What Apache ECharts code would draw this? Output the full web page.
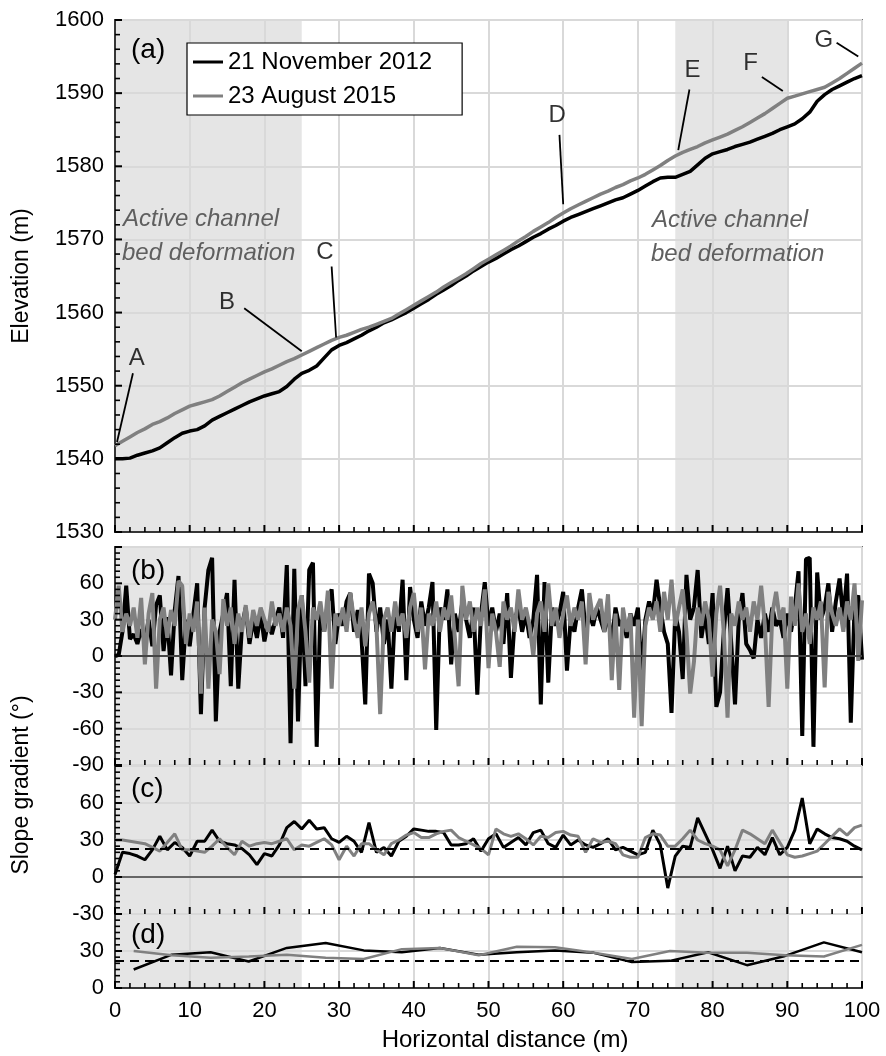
<!DOCTYPE html>
<html><head><meta charset="utf-8">
<script src="https://cdn.jsdelivr.net/npm/echarts@6/dist/echarts.min.js"></script>
<style>html,body{margin:0;padding:0;background:#fff}#c{width:886px;height:1056px;background:#fff}</style>
</head><body><div id="c"></div><script>
const FONT = 'Liberation Sans, Arial, sans-serif';
const seriesNames = ['21 November 2012', '23 August 2015'];
const seriesColors = ['#000000', '#808080'];

// (a) elevation, sampled every 1 m from 0 to 100 m
const elevStep = 1;
const elev2012 = [1540.0,1540.0,1540.1,1540.5,1540.8,1541.1,1541.5,1542.2,1542.9,1543.5,1543.8,1544.0,1544.5,1545.3,1545.8,1546.3,1546.8,1547.3,1547.8,1548.2,1548.6,1548.9,1549.2,1549.9,1550.9,1551.7,1552.1,1552.7,1553.8,1554.9,1555.5,1555.9,1556.4,1556.9,1557.5,1558.0,1558.6,1559.0,1559.5,1560.0,1560.6,1561.2,1561.8,1562.5,1563.1,1563.7,1564.4,1565.0,1565.7,1566.3,1566.9,1567.4,1568.0,1568.6,1569.1,1569.7,1570.3,1570.8,1571.4,1571.9,1572.5,1573.0,1573.4,1573.8,1574.2,1574.6,1575.0,1575.4,1575.7,1576.2,1576.7,1577.3,1577.9,1578.4,1578.5,1578.5,1578.9,1579.3,1580.2,1581.1,1581.7,1582.0,1582.3,1582.7,1583.0,1583.3,1583.7,1584.1,1584.5,1585.0,1585.4,1585.8,1586.5,1587.4,1588.9,1589.8,1590.5,1591.0,1591.5,1592.0,1592.4];
const elev2015 = [1541.8,1542.4,1543.0,1543.6,1544.1,1544.7,1545.1,1545.6,1546.2,1546.7,1547.2,1547.5,1547.8,1548.1,1548.6,1549.2,1549.8,1550.4,1550.9,1551.4,1551.9,1552.3,1552.8,1553.3,1553.7,1554.2,1554.7,1555.2,1555.7,1556.2,1556.6,1556.9,1557.3,1557.7,1558.0,1558.4,1558.8,1559.2,1559.8,1560.4,1561.0,1561.6,1562.2,1562.8,1563.5,1564.1,1564.7,1565.3,1566.0,1566.7,1567.3,1567.9,1568.5,1569.1,1569.8,1570.4,1571.1,1571.7,1572.3,1573.0,1573.6,1574.2,1574.7,1575.2,1575.7,1576.2,1576.6,1577.1,1577.5,1578.0,1578.4,1578.9,1579.5,1580.1,1580.8,1581.4,1581.9,1582.3,1582.7,1583.2,1583.6,1584.0,1584.4,1584.9,1585.4,1586.0,1586.6,1587.2,1587.9,1588.6,1589.3,1589.6,1589.9,1590.2,1590.5,1590.8,1591.4,1592.0,1592.7,1593.4,1594.1];

// (b) raw slope gradient, every 0.5 m
const rawStep = 0.5;
const slopeRaw2012 = [0,1,20,58,14,18,10,22,12,30, 8,42,50,4,32,-16,38,66,-20,30, 8,35,60,-48,40,71,81,-54,20,35, 52,-25,63,-27,25,40,10,30,15,35, 12,28,18,30,40,15,75,-72,72,-54, 50,-25,71,77,-75,40,20,45,55,10, 35,25,45,52,20,38,15,-40,68,60, 20,40,10,30,-27,40,20,63,-20,57, 30,15,45,25,40,61,-61,40,30,55, -7,35,20,45,30,15,40,-32,35,61, 25,40,20,35,10,52,-18,30,40,20, 35,15,30,67,-40,61,-22,40,25,35, 53,-12,30,20,40,55,20,35,25,40, 30,20,35,10,40,25,30,15,35,25, 40,-16,30,45,35,63,40,20,10,-47, 35,20,-19,67,30,40,71,15,35,10, 52,-42,-30,20,56,10,-40,30,52,10, 5,-2,30,15,35,20,40,25,30,15, 35,20,40,70,-66,80,81,-75,69,30, 40,60,20,45,64,30,68,-55,40,50, -3];
const slopeRaw2015 = [30,58,20,35,25,40,15,48,-7,35, 52,-27,30,40,15,38,25,62,58,10, 35,20,45,-31,40,-27,30,20,-15,47, 25,40,10,35,20,42,15,38,25,40, 30,20,45,25,35,20,40,25,-27,38, 50,20,-22,40,30,45,20,54,-27,35, 25,40,20,52,30,15,40,8,35,45, 25,-48,30,40,20,45,25,35,15,40, 52,20,40,-11,35,25,45,20,40,30, 50,15,-25,58,30,45,20,40,25,55, -10,35,20,-9,45,30,40,20,55,30, 40,25,0,35,45,20,60,25,40,15, 35,50,25,40,30,45,-7,52,30,40, 47,20,51,-20,35,-28,40,20,35,-51, 30,-58,25,40,30,45,20,53,30,63, 25,40,55,20,-31,-5,40,25,45,30, -17,35,58,20,-51,35,25,45,30,40, 20,45,30,58,25,-42,35,53,30,40, -27,49,25,60,20,35,10,40,30,45, -26,53,35,25,40,20,45,30,60,-4, 46];

// (c) slope gradient averaged over 1 m
const avgStep = 1;
const slope1m2012 = [2,20,19,17,14,22,33,22,28,24,17,29,29,38,29,27,26,23,18,10,19,17,26,40,45,39,46,39,40,31,28,33,29,20,44,20,24,17,29,33,39,38,37,37,36,26,26,27,31,21,31,35,24,28,32,26,36,38,27,24,34,26,30,26,24,27,31,22,24,21,18,20,38,26,-9,17,25,24,48,35,22,7,25,5,17,16,24,18,32,18,24,38,64,27,39,35,32,31,29,25,22];
const slope1m2015 = [30,30,29,28,27,24,21,28,35,22,22,21,20,25,31,24,18,29,25,27,28,27,29,31,22,26,25,28,31,26,14,25,17,27,27,22,18,27,30,34,36,32,32,35,37,38,32,29,26,23,18,39,35,33,35,31,26,33,32,36,37,34,33,20,31,28,29,27,18,16,16,32,35,34,25,25,31,38,30,27,25,22,9,22,38,35,31,27,38,28,18,16,17,19,21,27,33,39,34,40,42];

// (d) slope gradient averaged over ~5 m
const slope5mX = [2.5,7.6,12.8,17.9,23.0,28.2,33.3,38.4,43.5,48.7,53.8,58.9,64.1,69.2,74.3,79.4,84.6,89.7,94.9,100];
const slope5m2012 = [15,27,29,21.5,32.5,36.5,30.5,29,32.5,27,29,30.5,28.5,21,22,29,18.5,26,37,29];
const slope5m2015 = [30,26.5,24.5,25.5,27,24.5,23.5,31.5,32.5,26.5,33.5,33,28.5,23.5,30,28.5,28.5,26.5,25.5,35];

const refSlopeC = 23;
const refSlopeD = 22;
const activeZones = [[0, 25], [75, 90]];

// annotation letters and pointer lines, in data units of panel (a)
const annoLabels = ['A','B','C','D','E','F','G'];
const annoText = [[2.9,1553.7],[15.0,1561.4],[28.1,1568.2],[59.2,1586.9],[77.3,1593.1],[85.1,1594.1],[94.9,1597.2]];
const annoFrom = [[2.4,1551.7],[17.3,1560.6],[29.0,1566.3],[59.5,1584.3],[76.9,1590.5],[86.6,1592.2],[96.6,1596.9]];
const annoTo = [[0.27,1542.3],[25.0,1554.7],[29.6,1556.6],[60.0,1574.8],[75.4,1582.2],[89.4,1590.3],[99.5,1595.0]];

const pairs = (vals, step) => vals.map((v, i) => [i * step, v]);
const pairsX = (xs, vals) => vals.map((v, i) => [xs[i], v]);

const grids = [
  {left:115, top:20, width:747, height:512},
  {left:115, top:547, width:747, height:218},
  {left:115, top:766, width:747, height:148},
  {left:115, top:914, width:747, height:74}
].map(g => Object.assign(g, {show:true, borderColor:'#000', borderWidth:1.5, backgroundColor:'transparent'}));

// axis definitions: range, major interval, minor step
const xDef = {min:0, max:100, interval:10, minorStep:2};
const yDefs = [
  {min:1530, max:1600, interval:10, minorStep:2, showMax:true},
  {min:-90, max:90, interval:30, minorStep:5, showMax:false},
  {min:-30, max:90, interval:30, minorStep:5, showMax:false},
  {min:0, max:60, interval:30, minorStep:5, showMax:false}
];

const xAxes = grids.map((g, i) => ({
  gridIndex:i, type:'value', min:xDef.min, max:xDef.max, interval:xDef.interval,
  axisLine:{show:true, lineStyle:{color:'#000', width:1.5}},
  axisTick:{show:false}, minorTick:{show:false},
  splitLine:{show:true, lineStyle:{color:'#d9d9d9', width:2}},
  axisLabel:{show:i===3, fontSize:22, color:'#000', margin:12, fontFamily:FONT, formatter:v => String(v)}
}));
const yAxes = yDefs.map((d, i) => ({
  gridIndex:i, type:'value', min:d.min, max:d.max, interval:d.interval,
  axisLine:{show:true, lineStyle:{color:'#000', width:1.5}},
  axisTick:{show:false}, minorTick:{show:false},
  splitLine:{show:true, lineStyle:{color:'#d9d9d9', width:2}},
  axisLabel:{fontSize:22, color:'#000', margin:11, fontFamily:FONT, showMaxLabel:d.showMax, showMinLabel:true, formatter:v => String(v)}
}));

const series = [];
const lineSeries = (name, idx, data, width, color, extra) => Object.assign({
  name, type:'line', xAxisIndex:idx, yAxisIndex:idx, data, symbol:'none', showSymbol:false,
  lineStyle:{color, width}, itemStyle:{color}, animation:false
}, extra || {});

series.push(lineSeries(seriesNames[0], 0, pairs(elev2012, elevStep), 3.5, seriesColors[0]));
series.push(lineSeries(seriesNames[1], 0, pairs(elev2015, elevStep), 3.5, seriesColors[1]));

series.push(lineSeries(seriesNames[0], 1, pairs(slopeRaw2012, rawStep), 4, seriesColors[0], {
  markLine:{silent:true, symbol:['none','none'], label:{show:false}, lineStyle:{color:'#444', width:2, type:'solid'}, data:[{yAxis:0}]}
}));
series.push(lineSeries(seriesNames[1], 1, pairs(slopeRaw2015, rawStep), 4, seriesColors[1]));

series.push(lineSeries(seriesNames[0], 2, pairs(slope1m2012, avgStep), 3, seriesColors[0], {
  markLine:{silent:true, symbol:['none','none'], label:{show:false}, data:[
    {yAxis:0, lineStyle:{color:'#666', width:2, type:'solid'}},
    {yAxis:refSlopeC, lineStyle:{color:'#000', width:2, type:[9,6]}}
  ]}
}));
series.push(lineSeries(seriesNames[1], 2, pairs(slope1m2015, avgStep), 3, seriesColors[1]));

series.push(lineSeries(seriesNames[0], 3, pairsX(slope5mX, slope5m2012), 2.5, seriesColors[0], {
  markLine:{silent:true, symbol:['none','none'], label:{show:false}, data:[
    {yAxis:refSlopeD, lineStyle:{color:'#000', width:2, type:[9,6]}}
  ]}
}));
series.push(lineSeries(seriesNames[1], 3, pairsX(slope5mX, slope5m2015), 2.5, seriesColors[1]));

// annotation letters and pointers
series.push({
  type:'scatter', xAxisIndex:0, yAxisIndex:0, symbolSize:0, silent:true, z:10,
  data: annoLabels.map((l, i) => ({name:l, value:annoText[i]})),
  label:{show:true, position:'inside', formatter:p => p.name, fontSize:24, color:'#000', fontFamily:FONT},
  markLine:{silent:true, symbol:['none','none'], label:{show:false}, animation:false,
    lineStyle:{color:'#000', width:1.8, type:'solid'},
    data: annoLabels.map((l, i) => [{coord:annoFrom[i]}, {coord:annoTo[i]}])}
});

const txt = (text, x, y, size, opts) => Object.assign({
  type:'text', x, y, z:100, silent:true,
  style:Object.assign({text, fontSize:size, fontFamily:FONT, fill:'#000', align:'left', verticalAlign:'middle'}, (opts && opts.style) || {})
}, (opts && opts.el) || {});

const graphic = [
  txt('(a)', 131, 50, 28),
  txt('(b)', 131, 571, 28),
  txt('(c)', 131, 789, 28),
  txt('(d)', 131, 935, 28),
  txt('Active channel', 123, 219, 24, {style:{fill:'#5f5f5f', fontStyle:'italic'}}),
  txt('bed deformation', 122, 253, 24, {style:{fill:'#5f5f5f', fontStyle:'italic'}}),
  txt('Active channel', 652, 220, 24, {style:{fill:'#5f5f5f', fontStyle:'italic'}}),
  txt('bed deformation', 651, 254, 24, {style:{fill:'#5f5f5f', fontStyle:'italic'}}),
  txt('Elevation (m)', 22, 276, 23, {style:{align:'center'}, el:{rotation:Math.PI/2}}),
  txt('Slope gradient (°)', 22, 785, 23, {style:{align:'center'}, el:{rotation:Math.PI/2}}),
  txt('Horizontal distance (m)', 505, 1040, 24, {style:{align:'center'}})
];

const chart = echarts.init(document.getElementById('c'), null, {renderer:'canvas'});
chart.setOption({
  animation:false,
  backgroundColor:'#fff',
  textStyle:{fontFamily:FONT},
  grid:grids, xAxis:xAxes, yAxis:yAxes, series, graphic,
  legend:{
    data:seriesNames, orient:'vertical', left:187, top:43,
    padding:[7,30,7,6], itemGap:10, itemWidth:30, itemHeight:3, icon:'rect',
    backgroundColor:'#fff', borderColor:'#000', borderWidth:1.2, borderRadius:0,
    textStyle:{fontSize:24, color:'#000', fontFamily:FONT},
    selectedMode:false
  }
});

// shading of active zones and inward ticks, placed through the axes' own scales
const extra = [];
const near = (a, b) => Math.abs(a - b) < 1e-6;
yDefs.forEach((d, i) => {
  const cs = {xAxisIndex:i, yAxisIndex:i};
  activeZones.forEach((zn, k) => {
    const p0 = chart.convertToPixel(cs, [zn[0], d.max]);
    const p1 = chart.convertToPixel(cs, [zn[1], d.min]);
    extra.push({
      type:'rect', id:'shade' + i + '_' + k, z:-10, silent:true,
      shape:{x:p0[0], y:p0[1], width:p1[0] - p0[0], height:p1[1] - p0[1]},
      style:{fill:'rgba(0,0,0,0.1)'}
    });
  });
  // x ticks along the bottom edge
  const nX = Math.round((xDef.max - xDef.min) / xDef.minorStep);
  for (let t = 0; t <= nX; t++) {
    const v = xDef.min + t * xDef.minorStep;
    const major = near(v % xDef.interval, 0);
    const p = chart.convertToPixel(cs, [v, d.min]);
    const len = major ? 7 : 5;
    extra.push({type:'line', id:'xt' + i + '_' + t, z:50, silent:true,
      shape:{x1:p[0], y1:p[1], x2:p[0], y2:p[1] - len},
      style:{stroke:'#000', lineWidth:major ? 2 : 1.6}});
  }
  // y ticks along the left edge
  const nY = Math.round((d.max - d.min) / d.minorStep);
  for (let t = 0; t <= nY; t++) {
    const v = d.min + t * d.minorStep;
    const major = near((v - d.min) % d.interval, 0);
    const p = chart.convertToPixel(cs, [xDef.min, v]);
    const len = major ? 7 : 5;
    extra.push({type:'line', id:'yt' + i + '_' + t, z:50, silent:true,
      shape:{x1:p[0], y1:p[1], x2:p[0] + len, y2:p[1]},
      style:{stroke:'#000', lineWidth:major ? 2 : 1.6}});
  }
});
chart.setOption({graphic: graphic.concat(extra)});
</script></body></html>
